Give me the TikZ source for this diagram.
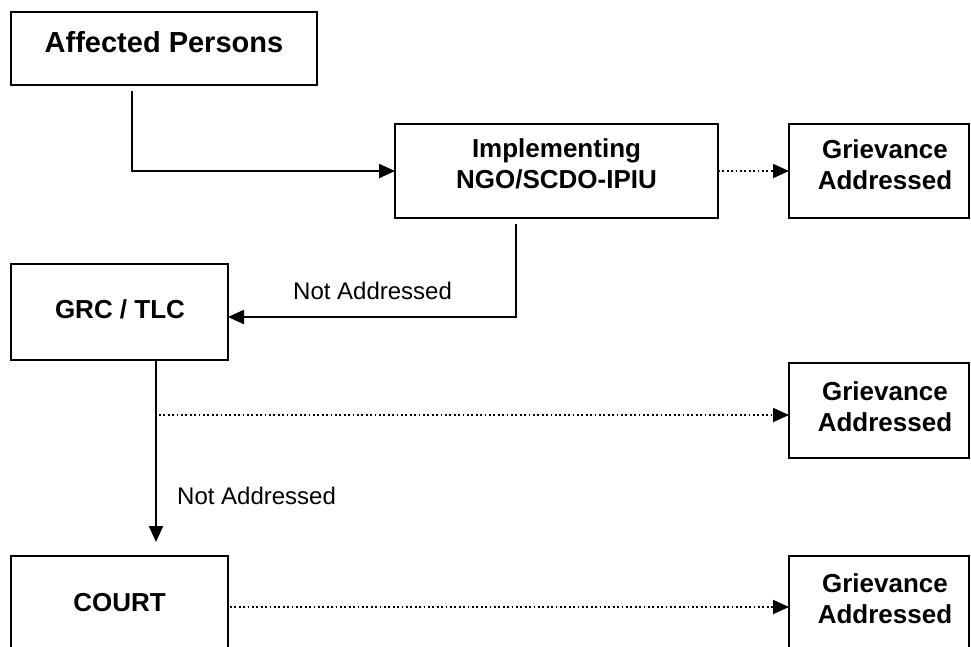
\documentclass[tikz,border=0pt]{standalone}
\usepackage{fontspec}
\setmainfont{Liberation Sans}
\usetikzlibrary{arrows.meta}
\begin{document}
\begin{tikzpicture}[x=1pt,y=-1pt,
  box/.style={draw, line width=2.4pt, inner sep=0pt, outer sep=0pt},
  btext/.style={anchor=base, inner sep=0pt, font=\fontsize{26}{31}\selectfont\bfseries},
  bigtext/.style={anchor=base, inner sep=0pt, font=\fontsize{29}{34}\selectfont\bfseries},
  lbl/.style={anchor=base west, inner sep=0pt, font=\fontsize{24}{28}\selectfont},
  conn/.style={line width=2.2pt, -{Triangle[length=16pt,width=14pt]}},
  dots/.style={line width=1.8pt, dash pattern=on 1.8pt off 2.6pt, -{Triangle[length=16pt,width=14pt]}}]
\useasboundingbox (0,0) rectangle (971,646);
\clip (0,0) rectangle (971,646);

% boxes
\node[box, minimum width=306pt, minimum height=73pt] (ap) at (164,48.5) {};
\node[box, minimum width=323pt, minimum height=94pt] (imp) at (556.5,171) {};
\node[box, minimum width=180pt, minimum height=94pt] (g1) at (879,171) {};
\node[box, minimum width=217pt, minimum height=96pt] (grc) at (119.5,312) {};
\node[box, minimum width=180pt, minimum height=95pt] (g2) at (879,410.5) {};
\node[box, minimum width=217pt, minimum height=102pt] (court) at (119.5,607) {};
\node[box, minimum width=180pt, minimum height=102pt] (g3) at (879,607) {};

% texts
\node[bigtext] (apt) at (164,52) {Affected Persons};
\node[btext] (impt) at (556.5,157) {\begin{tabular}[t]{@{}c@{}}Implementing\\NGO/SCDO-IPIU\end{tabular}};
\node[btext] (g1t) at (885,158) {\begin{tabular}[t]{@{}c@{}}Grievance\\Addressed\end{tabular}};
\node[btext] (grct) at (120,318) {GRC / TLC};
\node[btext] (g2t) at (885,400) {\begin{tabular}[t]{@{}c@{}}Grievance\\Addressed\end{tabular}};
\node[btext] (courtt) at (119.5,611) {COURT};
\node[btext] (g3t) at (885,592) {\begin{tabular}[t]{@{}c@{}}Grievance\\Addressed\end{tabular}};
\node[lbl] (na1) at (293,299) {Not Addressed};
\node[lbl] (na2) at (177,504) {Not Addressed};

% connectors
\draw[conn] ([shift={(121pt,-6pt)}]ap.south west) |- (imp.west);
\draw[dots] (imp.east) -- (g1.west);
\draw[conn] ([shift={(121pt,-6pt)}]imp.south west) |- ([yshift=-5pt]grc.east);
\draw[conn] ([xshift=36.5pt]grc.south) -- ([xshift=36.5pt,yshift=14pt]court.north);
\coordinate (split) at (159,415);
\draw[dots] (split) -- ([yshift=-4.5pt]g2.west);
\draw[dots] ([xshift=2pt]court.east) -- (g3.west);
\end{tikzpicture}
\end{document}
